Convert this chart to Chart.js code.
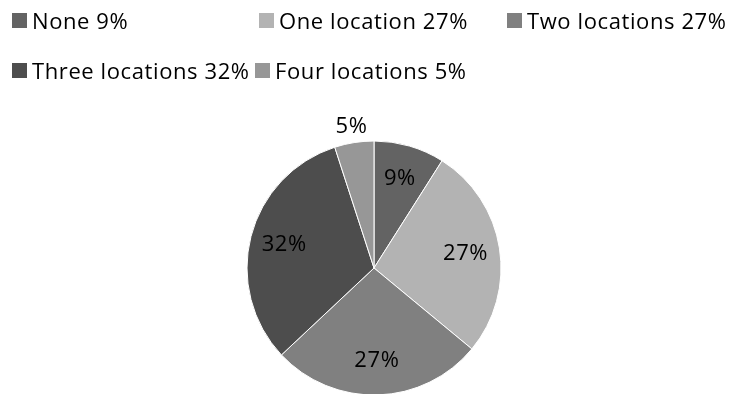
<!DOCTYPE html>
<html>
<head>
<meta charset="utf-8">
<script src="https://cdn.jsdelivr.net/npm/chart.js@4/dist/chart.umd.min.js"></script>
<style>
    body { margin: 0; background: #fff; }
    #wrap { position: relative; width: 731px; height: 394px; overflow: hidden; }
    #chart { position: absolute; left: 0; top: 0; }
    .item { position: absolute; display: flex; align-items: center; white-space: nowrap;
            font-family: "Open Sans", sans-serif; font-size: 22px; letter-spacing: 0.6px; color: #000; }
    .box { width: 15px; height: 15px; margin-right: 5px; }
</style>
</head>
<body>
<div id="wrap">
    <canvas id="chart" width="731" height="394"></canvas>
</div>
<script>
// Chart data
const categories = ['None', 'One location', 'Two locations', 'Three locations', 'Four locations'];
const shares = [9, 27, 27, 32, 5];
const sliceColors = ['#636363', '#b3b3b3', '#808080', '#4d4d4d', '#979797'];

// Legend layout (Excel style, two rows)
const legendSlots = [
    { left: 12, top: 20 },
    { left: 259, top: 20 },
    { left: 507, top: 20 },
    { left: 12, top: 70 },
    { left: 255, top: 70 }
];

const wrap = document.getElementById('wrap');
categories.forEach((name, i) => {
    const item = document.createElement('div');
    item.className = 'item';
    item.style.left = legendSlots[i].left + 'px';
    item.style.top = (legendSlots[i].top - 15) + 'px';
    item.style.height = '30px';
    const box = document.createElement('span');
    box.className = 'box';
    box.style.background = sliceColors[i];
    const label = document.createElement('span');
    label.textContent = name + ' ' + shares[i] + '%';
    item.appendChild(box);
    item.appendChild(label);
    wrap.appendChild(item);
});

// Percent labels on the slices
const sliceLabels = {
    id: 'sliceLabels',
    afterDatasetsDraw(chart) {
        const ctx = chart.ctx;
        const meta = chart.getDatasetMeta(0);
        ctx.save();
        ctx.font = '22px "Open Sans", sans-serif';
        ctx.letterSpacing = '0.6px';
        ctx.fillStyle = '#000';
        ctx.textAlign = 'center';
        ctx.textBaseline = 'middle';
        meta.data.forEach((arc, i) => {
            const mid = (arc.startAngle + arc.endAngle) / 2;
            const r = shares[i] < 7 ? arc.outerRadius * 1.13 : arc.outerRadius * 0.73;
            ctx.fillText(shares[i] + '%', arc.x + Math.cos(mid) * r, arc.y + Math.sin(mid) * r);
        });
        ctx.restore();
    }
};

new Chart(document.getElementById('chart'), {
    type: 'pie',
    data: {
        labels: categories,
        datasets: [{
            data: shares,
            backgroundColor: sliceColors,
            borderColor: '#ffffff',
            borderWidth: 1
        }]
    },
    options: {
        responsive: false,
        animation: false,
        radius: 127,
        layout: { padding: { left: 17, right: 0, top: 142, bottom: 0 } },
        plugins: {
            legend: { display: false },
            tooltip: { enabled: false }
        }
    },
    plugins: [sliceLabels]
});
</script>
</body>
</html>
